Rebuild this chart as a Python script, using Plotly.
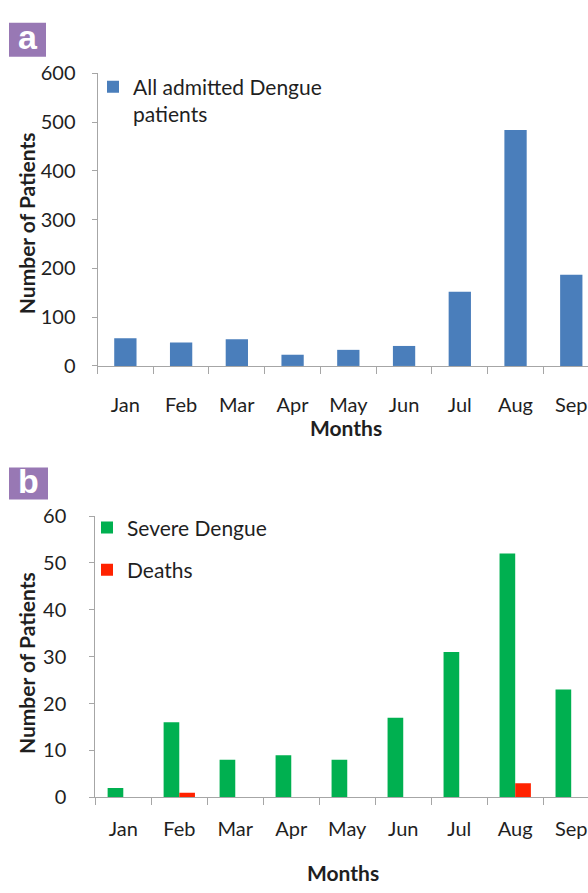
import plotly.graph_objects as go

# ---- data ----
months = ["Jan", "Feb", "Mar", "Apr", "May", "Jun", "Jul", "Aug", "Sep"]
all_admitted = [57, 48, 55, 23, 33, 41, 152, 484, 187]
severe_dengue = [2, 16, 8, 9, 8, 17, 31, 52, 23]
deaths = [0, 1, 0, 0, 0, 0, 0, 3, 0]
y_ticks_a = [0, 100, 200, 300, 400, 500, 600]
y_ticks_b = [0, 10, 20, 30, 40, 50, 60]

W, H = 588, 893
FONT = "Lato"
TXT = "#1f1f1f"
GRAY = "#A6A6A6"
PURPLE = "#9878B4"


def fx(p):
    return p / W


def fy(p):
    return 1 - p / H


fig = go.Figure()
fig.add_trace(go.Bar(
    x=months, y=all_admitted, name="All admitted Dengue<br>patients",
    marker=dict(color="#4A7EBB", line=dict(width=0)),
    width=0.4, offset=-0.2, xaxis="x", yaxis="y", legend="legend",
    showlegend=True))
fig.add_trace(go.Bar(
    x=months, y=severe_dengue, name="Severe Dengue",
    marker=dict(color="#00B050", line=dict(width=0)),
    width=0.28, offset=-0.28, xaxis="x2", yaxis="y2",
    legend="legend2", legendgroup="sev", showlegend=True))
fig.add_trace(go.Bar(
    x=months, y=deaths, name="Deaths",
    marker=dict(color="#FF2200", line=dict(width=0)),
    width=0.28, offset=0, xaxis="x2", yaxis="y2",
    legend="legend2", legendgroup="dth", showlegend=True))

xcommon = dict(type="category", range=[-0.5, 8.3], tickson="boundaries",
               ticks="outside", ticklen=7, tickcolor=GRAY, showline=True,
               linecolor=GRAY, linewidth=1, showgrid=False, zeroline=False,
               tickfont=dict(family=FONT, size=20, color=TXT), fixedrange=True)
ycommon = dict(ticks="outside", ticklen=5, tickcolor=GRAY, showline=True,
               linecolor=GRAY, linewidth=1, showgrid=False, zeroline=False,
               tickfont=dict(family=FONT, size=20, color=TXT), fixedrange=True)

fig.update_layout(
    width=W, height=H, margin=dict(l=0, r=0, t=0, b=0),
    paper_bgcolor="white", plot_bgcolor="white",
    font=dict(family=FONT, color=TXT),
    barmode="group", showlegend=True,
    xaxis=dict(xcommon, domain=[fx(97.5), 1], anchor="y", ticklabelstandoff=21),
    yaxis=dict(ycommon, domain=[fy(362.7), fy(62)], anchor="x", range=[0, 600],
               tickvals=y_ticks_a, ticklabelstandoff=12),
    xaxis2=dict(xcommon, domain=[fx(95.3), 1], anchor="y2", ticklabelstandoff=14),
    yaxis2=dict(ycommon, domain=[fy(806), fy(517)], anchor="x2", range=[0, 60],
                tickvals=y_ticks_b, ticklabelstandoff=19),
    legend=dict(x=fx(93), y=fy(55), xanchor="left", yanchor="top",
                bgcolor="rgba(0,0,0,0)", valign="top",
                font=dict(family=FONT, size=21, color=TXT)),
    legend2=dict(x=fx(87), y=fy(508), xanchor="left", yanchor="top",
                 bgcolor="rgba(0,0,0,0)", tracegroupgap=12,
                 font=dict(family=FONT, size=21, color=TXT)),
    shapes=[
        dict(type="rect", xref="paper", yref="paper", x0=fx(9), x1=fx(46),
             y0=fy(45), y1=fy(10), fillcolor=PURPLE, line=dict(width=0)),
        dict(type="rect", xref="paper", yref="paper", x0=fx(9), x1=fx(48),
             y0=fy(500), y1=fy(467), fillcolor=PURPLE, line=dict(width=0)),
    ],
    annotations=[
        dict(text="<b>a</b>", x=fx(27.5), y=fy(25), xref="paper", yref="paper",
             showarrow=False, font=dict(family="Liberation Sans", size=34, color="white"),
             xanchor="center", yanchor="middle"),
        dict(text="<b>b</b>", x=fx(28.5), y=fy(481), xref="paper", yref="paper",
             showarrow=False, font=dict(family="Liberation Sans", size=34, color="white"),
             xanchor="center", yanchor="middle"),
        dict(text="<b>Number of Patients</b>", x=fx(26), y=fy(216), xref="paper",
             yref="paper", textangle=-90, showarrow=False,
             xanchor="center", yanchor="middle",
             font=dict(family=FONT, size=21, color=TXT)),
        dict(text="<b>Months</b>", x=fx(346), y=fy(426), xref="paper", yref="paper",
             showarrow=False, xanchor="center", yanchor="middle",
             font=dict(family=FONT, size=21, color=TXT)),
        dict(text="<b>Number of Patients</b>", x=fx(26), y=fy(668), xref="paper",
             yref="paper", textangle=-90, showarrow=False,
             xanchor="center", yanchor="middle",
             font=dict(family=FONT, size=21, color=TXT)),
        dict(text="<b>Months</b>", x=fx(343), y=fy(883), xref="paper", yref="paper",
             showarrow=False, xanchor="center", yanchor="middle",
             font=dict(family=FONT, size=21, color=TXT)),
    ],
)

fig.write_html(
    "out.html",
    config={"displayModeBar": False},
    post_script="document.body.style.margin='0';"
                "document.documentElement.style.overflow='hidden';",
)
